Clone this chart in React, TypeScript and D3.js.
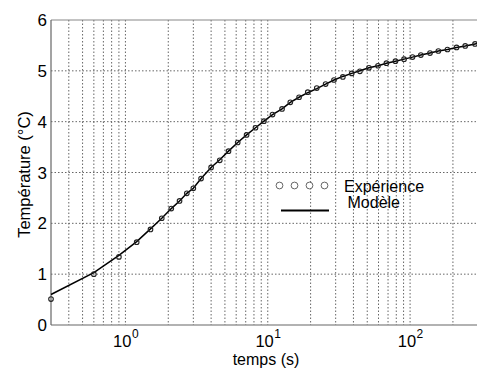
import React from "react";
import * as d3 from "d3";

const expTime = [0.3, 0.6, 0.9, 1.2, 1.5, 1.8, 2.1, 2.4, 2.7, 3.0, 3.4, 4.0, 4.6, 5.3, 6.15, 7.1, 8.2, 9.4, 10.8, 12.6, 14.4, 16.6, 19.1, 22.1, 25.5, 29.2, 33.7, 38.9, 44.4, 51.4, 59.5, 68.2, 78.9, 90.7, 104, 119, 138, 158, 183, 212, 244, 286];
const expTemp = [0.51, 1.0, 1.34, 1.63, 1.88, 2.1, 2.29, 2.44, 2.59, 2.69, 2.88, 3.1, 3.24, 3.42, 3.59, 3.74, 3.88, 4.01, 4.14, 4.25, 4.38, 4.48, 4.58, 4.66, 4.74, 4.82, 4.88, 4.95, 4.99, 5.06, 5.1, 5.15, 5.19, 5.23, 5.27, 5.31, 5.35, 5.39, 5.42, 5.46, 5.49, 5.53];

const modelTime = [0.3, 0.6, 0.9, 1.2, 1.5, 1.8, 2.1, 2.4, 2.7, 3.0, 3.4, 4.0, 4.6, 5.3, 6.15, 7.1, 8.2, 9.4, 10.8, 12.6, 14.4, 16.6, 19.1, 22.1, 25.5, 29.2, 33.7, 38.9, 44.4, 51.4, 59.5, 68.2, 78.9, 90.7, 104, 119, 138, 158, 183, 212, 244, 286, 300];
const modelTemp = [0.6, 1.03, 1.37, 1.64, 1.89, 2.1, 2.29, 2.44, 2.59, 2.69, 2.88, 3.1, 3.25, 3.42, 3.59, 3.74, 3.88, 4.01, 4.14, 4.25, 4.38, 4.48, 4.57, 4.65, 4.74, 4.82, 4.89, 4.95, 5.0, 5.06, 5.1, 5.15, 5.19, 5.23, 5.27, 5.31, 5.35, 5.39, 5.42, 5.46, 5.49, 5.53, 5.54];

const yTicks = [0, 1, 2, 3, 4, 5, 6];
const xTickExps = [0, 1, 2];
const xGrid = [0.4, 0.5, 0.6, 0.7, 0.8, 0.9, 1, 2, 3, 4, 5, 6, 7, 8, 9, 10, 20, 30, 40, 50, 60, 70, 80, 90, 100, 200];

const xLabel = "temps (s)";
const yLabel = "Température (°C)";
const legendExp = "Expérience";
const legendModel = "Modèle";

const W = 477, H = 370;
const L = 51, R = 478, T = 20, B = 325;
const font = "'Liberation Sans', Arial, sans-serif";

export default function App() {
  const x = d3.scaleLog().domain([0.3, 300]).range([L, R]);
  const y = d3.scaleLinear().domain([0, 6]).range([B, T]);
  const line = d3.line<number>().x((_, i) => x(modelTime[i])).y((d) => y(d));

  return (
    <svg width={W} height={H} style={{ position: "absolute", left: 0, top: 0, background: "#fff" }} fontFamily={font}>
      <rect x={0} y={0} width={W} height={H} fill="#fff" />
      {xGrid.map((g) => (
        <line key={"gx" + g} x1={x(g)} x2={x(g)} y1={T} y2={B} stroke="#555" strokeWidth={0.9} strokeDasharray="1.5,2" />
      ))}
      {yTicks.slice(1, -1).map((g) => (
        <line key={"gy" + g} x1={L} x2={R} y1={y(g)} y2={y(g)} stroke="#555" strokeWidth={0.9} strokeDasharray="1.5,2" />
      ))}
      <line x1={L} x2={R} y1={T} y2={T} stroke="#888" strokeWidth={1.2} />
      <line x1={L} x2={R} y1={B} y2={B} stroke="#666" strokeWidth={1.2} />
      <line x1={L} x2={L} y1={T} y2={B} stroke="#666" strokeWidth={1.2} />
      {yTicks.map((t) => (
        <text key={"yt" + t} x={L - 4} y={y(t) + 6} textAnchor="end" fontSize={17} fill="#000">{t}</text>
      ))}
      {xTickExps.map((e) => (
        <g key={"xt" + e}>
          <text x={x(Math.pow(10, e)) + 6} y={347} textAnchor="end" fontSize={16.5} fill="#000">10</text>
          <text x={x(Math.pow(10, e)) + 6.5} y={337.5} textAnchor="start" fontSize={12} fill="#000">{e}</text>
        </g>
      ))}
      <text x={266} y={365} textAnchor="middle" fontSize={16} fill="#000">{xLabel}</text>
      <text transform={`translate(30,${(T + B) / 2 + 2}) rotate(-90)`} textAnchor="middle" fontSize={16.5} fill="#000">{yLabel}</text>
      <path d={line(modelTemp) || ""} fill="none" stroke="#000" strokeWidth={1.5} />
      {expTemp.map((v, i) => (
        <circle key={"p" + i} cx={x(expTime[i])} cy={y(v)} r={2.3} fill="none" stroke="#222" strokeWidth={1.1} />
      ))}
      {[279.5, 294.5, 309.5, 324.5].map((cx) => (
        <circle key={"lc" + cx} cx={cx} cy={185.5} r={3.4} fill="#fff" stroke="#555" strokeWidth={0.9} />
      ))}
      <text x={344} y={191.5} fontSize={16} fill="#000">{legendExp}</text>
      <line x1={281} x2={329} y1={210.5} y2={210.5} stroke="#000" strokeWidth={2} />
      <text x={347.5} y={208} fontSize={16} fill="#000">{legendModel}</text>
    </svg>
  );
}
